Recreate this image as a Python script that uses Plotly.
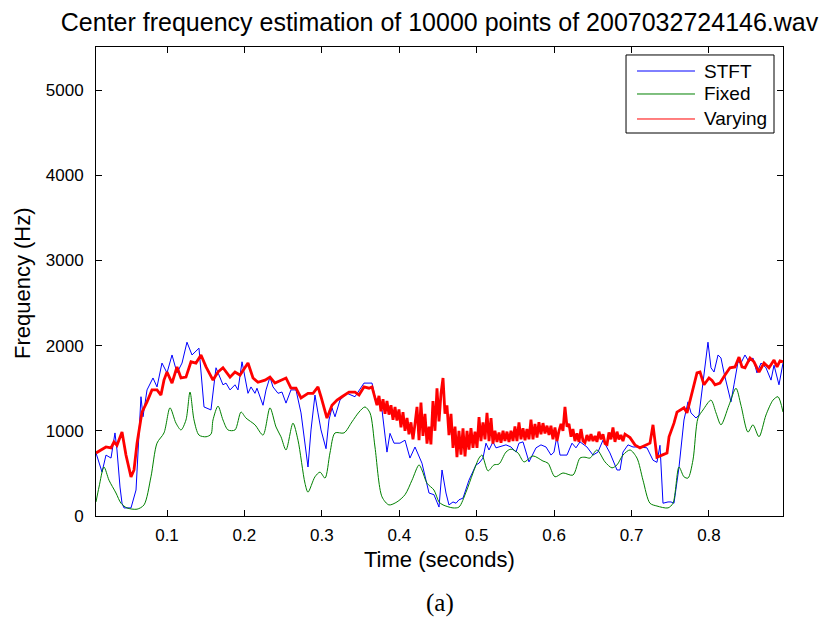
import plotly.graph_objects as go

# STFT centre-frequency estimate (time in s, frequency in Hz)
stft_t = [0.0083, 0.0161, 0.0212, 0.0277, 0.0328, 0.0354, 0.0393, 0.0419, 0.0445, 0.0535,
          0.0600, 0.0664, 0.0690, 0.0742, 0.0819, 0.0871, 0.0935, 0.1000, 0.1065, 0.1129,
          0.1194, 0.1258, 0.1323, 0.1413, 0.1478, 0.1568, 0.1633, 0.1723, 0.1762, 0.1814,
          0.1878, 0.1917, 0.1969, 0.2007, 0.2046, 0.2085, 0.2136, 0.2162, 0.2240, 0.2279,
          0.2330, 0.2369, 0.2434, 0.2485, 0.2537, 0.2601, 0.2666, 0.2731, 0.2821, 0.2860,
          0.2911, 0.2950, 0.2989, 0.3054, 0.3092, 0.3131, 0.3170, 0.3234, 0.3325, 0.3428,
          0.3544, 0.3648, 0.3686, 0.3777, 0.3841, 0.3880, 0.3932, 0.4009, 0.4074, 0.4138,
          0.4203, 0.4293, 0.4384, 0.4448, 0.4513, 0.4552, 0.4603, 0.4642, 0.4694, 0.4733,
          0.4771, 0.4823, 0.4900, 0.4991, 0.5030, 0.5081, 0.5120, 0.5159, 0.5210, 0.5249,
          0.5288, 0.5378, 0.5443, 0.5507, 0.5546, 0.5598, 0.5675, 0.5727, 0.5766, 0.5830,
          0.5895, 0.5960, 0.5998, 0.6035, 0.6076, 0.6166, 0.6231, 0.6282, 0.6334, 0.6424,
          0.6502, 0.6566, 0.6631, 0.6721, 0.6812, 0.6851, 0.6889, 0.6954, 0.7019, 0.7109,
          0.7199, 0.7277, 0.7328, 0.7367, 0.7406, 0.7471, 0.7509, 0.7548, 0.7613, 0.7677,
          0.7729, 0.7768, 0.7832, 0.7871, 0.7923, 0.7987, 0.8026, 0.8065, 0.8117, 0.8155,
          0.8194, 0.8284, 0.8323, 0.8375, 0.8413, 0.8465, 0.8517, 0.8568, 0.8620, 0.8672,
          0.8736, 0.8801, 0.8840, 0.8904, 0.8956]
stft_hz = [740, 515, 715, 680, 975, 775, 340, 150, 95, 95,
           305, 1400, 1165, 1480, 1620, 1515, 1795, 1680, 1890, 1680,
           1795, 2040, 1890, 1970, 1280, 1245, 1740, 1540, 1560, 1480,
           1540, 1480, 1810, 1630, 1440, 1515, 1440, 1500, 1300, 1480,
           1630, 1515, 1440, 1455, 1325, 1480, 1480, 1210, 575, 1010,
           1420, 1210, 1010, 790, 1127, 1270, 1165, 1360, 1440, 1400,
           1560, 1560, 1400, 1245, 750, 970, 855, 855, 890, 680,
           810, 620, 270, 250, 105, 540, 270, 130, 165, 150,
           190, 210, 420, 600, 620, 680, 855, 775, 870, 800,
           810, 835, 810, 750, 855, 870, 635, 740, 800, 835,
           810, 715, 750, 930, 715, 715, 855, 800, 870, 810,
           715, 750, 890, 740, 540, 540, 750, 835, 810, 810,
           800, 655, 630, 830, 150, 165, 165, 150, 575, 1127,
           1340, 1210, 1150, 1185, 1595, 2040, 1740, 1690, 1890, 1855,
           1680, 1340, 1540, 1810, 1795, 1890, 1810, 1855, 1680, 1795,
           1740, 1595, 1770, 1540, 1795]

# Fixed-window estimate
fixed_t = [0.0083, 0.0122, 0.0186, 0.0251, 0.0341, 0.0406, 0.0483, 0.0613, 0.0703, 0.0793,
           0.0871, 0.0961, 0.1039, 0.1116, 0.1181, 0.1245, 0.1297, 0.1349, 0.1413, 0.1504,
           0.1568, 0.1594, 0.1659, 0.1723, 0.1788, 0.1878, 0.1956, 0.2020, 0.2136, 0.2240,
           0.2330, 0.2408, 0.2472, 0.2537, 0.2627, 0.2692, 0.2782, 0.2821, 0.2911, 0.2976,
           0.3041, 0.3105, 0.3170, 0.3286, 0.3389, 0.3480, 0.3557, 0.3622, 0.3686, 0.3777,
           0.3867, 0.3970, 0.4074, 0.4164, 0.4255, 0.4293, 0.4358, 0.4448, 0.4513, 0.4565,
           0.4694, 0.4771, 0.4862, 0.4952, 0.5030, 0.5068, 0.5146, 0.5223, 0.5288, 0.5378,
           0.5443, 0.5533, 0.5611, 0.5727, 0.5856, 0.5921, 0.6011, 0.6114, 0.6243, 0.6334,
           0.6398, 0.6463, 0.6553, 0.6657, 0.6747, 0.6812, 0.6889, 0.6980, 0.7070, 0.7148,
           0.7238, 0.7328, 0.7471, 0.7535, 0.7613, 0.7677, 0.7729, 0.7793, 0.7858, 0.7923,
           0.8026, 0.8091, 0.8155, 0.8258, 0.8349, 0.8413, 0.8504, 0.8568, 0.8646, 0.8736,
           0.8827, 0.8891, 0.8956]
fixed_hz = [165, 340, 575, 420, 270, 150, 95, 80, 130, 460,
            855, 975, 1270, 1090, 1010, 1127, 1455, 1127, 950, 930,
            960, 1127, 1290, 1127, 1010, 1010, 1220, 1150, 1070, 950,
            1270, 1045, 930, 775, 1090, 890, 385, 280, 460, 515,
            445, 740, 975, 975, 1105, 1220, 1280, 1210, 810, 225,
            130, 165, 250, 420, 600, 540, 385, 305, 165, 130,
            95, 105, 280, 505, 680, 715, 530, 600, 610, 750,
            785, 740, 635, 705, 645, 620, 460, 505, 480, 680,
            690, 680, 775, 635, 565, 600, 715, 775, 680, 420,
            150, 117, 95, 150, 575, 460, 445, 655, 1150, 1245,
            1360, 1210, 1070, 1300, 1500, 1300, 985, 1070, 930, 1185,
            1360, 1400, 1220]

# Varying-window estimate
vary_t = [0.0083, 0.0148, 0.0212, 0.0277, 0.0315, 0.0354, 0.0419, 0.0470, 0.0535, 0.0574,
          0.0613, 0.0677, 0.0742, 0.0806, 0.0871, 0.0922, 0.0961, 0.1000, 0.1065, 0.1129,
          0.1181, 0.1245, 0.1310, 0.1374, 0.1439, 0.1504, 0.1568, 0.1594, 0.1659, 0.1723,
          0.1814, 0.1878, 0.1943, 0.2007, 0.2046, 0.2111, 0.2175, 0.2266, 0.2330, 0.2395,
          0.2472, 0.2537, 0.2601, 0.2666, 0.2731, 0.2821, 0.2886, 0.2950, 0.2989, 0.3066,
          0.3131, 0.3196, 0.3260, 0.3351, 0.3428, 0.3480, 0.3544, 0.3609, 0.3648,
          0.3686, 0.3712, 0.3738, 0.3764, 0.3790, 0.3816, 0.3841, 0.3867, 0.3893, 0.3919,
          0.3945, 0.3970, 0.3996, 0.4022, 0.4048, 0.4074, 0.4100, 0.4125, 0.4151, 0.4177,
          0.4203, 0.4229, 0.4255, 0.4280, 0.4306, 0.4332, 0.4358, 0.4384, 0.4409, 0.4435,
          0.4461, 0.4487, 0.4513, 0.4539, 0.4565, 0.4590, 0.4616, 0.4642, 0.4668, 0.4694,
          0.4720, 0.4745, 0.4771, 0.4797, 0.4823, 0.4849, 0.4875, 0.4900, 0.4926, 0.4952,
          0.4978, 0.5004, 0.5030, 0.5055, 0.5081, 0.5107, 0.5133, 0.5159, 0.5185, 0.5210,
          0.5236, 0.5262, 0.5288, 0.5314, 0.5340, 0.5365, 0.5391, 0.5417, 0.5443, 0.5469,
          0.5494, 0.5520, 0.5546, 0.5572, 0.5598, 0.5624, 0.5649, 0.5675, 0.5701, 0.5727,
          0.5753, 0.5779, 0.5804, 0.5830, 0.5856, 0.5882, 0.5908, 0.5934, 0.5959, 0.5985,
          0.6011, 0.6037, 0.6063, 0.6089, 0.6114, 0.6140, 0.6166, 0.6192, 0.6218, 0.6243,
          0.6269, 0.6295, 0.6321, 0.6347, 0.6373, 0.6398, 0.6424, 0.6450, 0.6476, 0.6502,
          0.6528, 0.6553, 0.6579, 0.6605, 0.6631, 0.6657, 0.6683, 0.6708, 0.6734, 0.6760,
          0.6786, 0.6812, 0.6837, 0.6863, 0.6889, 0.6915,
          0.6980, 0.7044, 0.7109, 0.7199, 0.7238, 0.7277, 0.7328, 0.7393, 0.7458, 0.7484,
          0.7548, 0.7587, 0.7626, 0.7677, 0.7716, 0.7781, 0.7845, 0.7884, 0.7936, 0.8000,
          0.8039, 0.8078, 0.8142, 0.8207, 0.8271, 0.8336, 0.8388, 0.8426, 0.8465, 0.8530,
          0.8581, 0.8646, 0.8711, 0.8775, 0.8840, 0.8879, 0.8917, 0.8956]
vary_hz = [740, 775, 810, 800, 870, 830, 985, 715, 460, 540,
           855, 1220, 1340, 1480, 1480, 1420, 1595, 1690, 1560, 1750,
           1620, 1630, 1810, 1795, 1890, 1750, 1630, 1595, 1690, 1740,
           1630, 1690, 1655, 1750, 1795, 1620, 1570, 1595, 1630, 1560,
           1595, 1620, 1500, 1500, 1385, 1440, 1440, 1515, 1400, 1150,
           1300, 1360, 1400, 1455, 1455, 1420, 1515, 1500, 1515,
           1400, 1300, 1410, 1230, 1370, 1200, 1350, 1190, 1300, 1130,
           1280, 1120, 1250, 1040, 1220, 1000, 1150, 960, 1100, 900,
           1080, 1280, 890, 1330, 940, 1200, 850, 1050, 840, 1350,
           1000, 1500, 1110, 1440, 1620, 1200, 1300, 950, 1200, 800,
           1050, 690, 1000, 720, 1030, 700, 1000, 780, 1030, 800,
           990, 800, 1160, 880, 1100, 900, 1210, 880, 1150, 850,
           1000, 870, 980, 860, 1000, 880, 990, 870, 1000, 880,
           1050, 880, 1100, 900, 1030, 890, 1020, 900, 1130, 900,
           1080, 920, 1100, 960, 1090, 970, 1060, 950, 1060, 900,
           1040, 880, 1000, 1080, 1000, 1280, 1050, 1080, 930, 1020,
           880, 970, 870, 1020, 880, 860, 950, 880, 960, 880,
           940, 870, 990, 900, 960, 850, 840, 980, 900, 1040,
           870, 990, 900, 950, 880, 960,
           920, 835, 800, 835, 855, 1070, 690, 715, 740, 930,
           1090, 1220, 1245, 1270, 1210, 1455, 1680, 1690, 1540, 1620,
           1590, 1540, 1560, 1655, 1740, 1750, 1865, 1750, 1740, 1855,
           1810, 1690, 1795, 1740, 1830, 1750, 1820, 1810]

x_ticks = [0.1, 0.2, 0.3, 0.4, 0.5, 0.6, 0.7, 0.8]
x_tick_labels = ["0.1", "0.2", "0.3", "0.4", "0.5", "0.6", "0.7", "0.8"]
y_ticks = [0, 1000, 2000, 3000, 4000, 5000]
y_tick_labels = ["0", "1000", "2000", "3000", "4000", "5000"]
series_names = ["STFT", "Fixed", "Varying"]
series_colors = ["#0000ff", "#008000", "#ff0000"]

SANS = "Liberation Sans, Arial, Helvetica, sans-serif"
SERIF = "Liberation Serif, Times New Roman, serif"

fig = go.Figure()
fig.add_trace(go.Scatter(x=stft_t, y=stft_hz, mode="lines", name=series_names[0],
                         line=dict(color=series_colors[0], width=1)))
fig.add_trace(go.Scatter(x=fixed_t, y=fixed_hz, mode="lines", name=series_names[1],
                         line=dict(color=series_colors[1], width=1, shape="spline", smoothing=0.8)))
fig.add_trace(go.Scatter(x=vary_t, y=vary_hz, mode="lines", name=series_names[2],
                         line=dict(color=series_colors[2], width=2.8)))

axis_common = dict(showline=True, linecolor="black", linewidth=1, mirror="ticks",
                   ticks="inside", ticklen=6, tickcolor="black", tickwidth=1,
                   showgrid=False, zeroline=False,
                   tickfont=dict(family=SANS, size=17, color="black"))

fig.update_xaxes(range=[0.0083, 0.8956], tickmode="array", tickvals=x_ticks,
                 ticktext=x_tick_labels, ticklabelstandoff=4, **axis_common)
fig.update_yaxes(range=[0, 5505], tickmode="array", tickvals=y_ticks,
                 ticktext=y_tick_labels, ticklabelstandoff=8, **axis_common)

# Boxed legend in the upper-right corner of the axes
shapes = [dict(type="rect", xref="paper", yref="paper", x0=0.7715, x1=0.9869,
               y0=0.8166, y1=0.983, line=dict(color="black", width=1),
               fillcolor="white", layer="above")]
annotations = []
legend_rows = [0.9488, 0.8998, 0.8465]
for name, color, yrow in zip(series_names, series_colors, legend_rows):
    shapes.append(dict(type="line", xref="paper", yref="paper", x0=0.7875, x1=0.8719,
                       y0=yrow, y1=yrow, line=dict(color=color, width=1), layer="above"))
    annotations.append(dict(text=name, xref="paper", yref="paper", x=0.8822, y=yrow,
                            xanchor="left", yanchor="middle", showarrow=False,
                            font=dict(family=SANS, size=19, color="black")))

annotations += [
    dict(text="Time (seconds)", xref="paper", yref="paper", x=0.5, y=-0.0938,
         xanchor="center", yanchor="middle", showarrow=False,
         font=dict(family=SANS, size=22, color="black")),
    dict(text="Frequency (Hz)", xref="paper", yref="paper", x=-0.1077, y=0.4968,
         xanchor="center", yanchor="middle", showarrow=False, textangle=-90,
         font=dict(family=SANS, size=22, color="black")),
    dict(text="(a)", xref="paper", yref="paper", x=0.5, y=-0.1855,
         xanchor="center", yanchor="middle", showarrow=False,
         font=dict(family=SERIF, size=25, color="black")),
]

fig.update_layout(
    width=829, height=623,
    margin=dict(l=96, r=46, t=47, b=107),
    paper_bgcolor="white", plot_bgcolor="white",
    showlegend=False,
    title=dict(text="Center frequency estimation of 10000 points of 2007032724146.wav",
               x=0.5302, xanchor="center", y=1 - 22 / 623, yref="container",
               yanchor="middle", font=dict(family=SANS, size=25, color="black")),
    shapes=shapes,
    annotations=annotations,
)

fig.write_html("out.html")
